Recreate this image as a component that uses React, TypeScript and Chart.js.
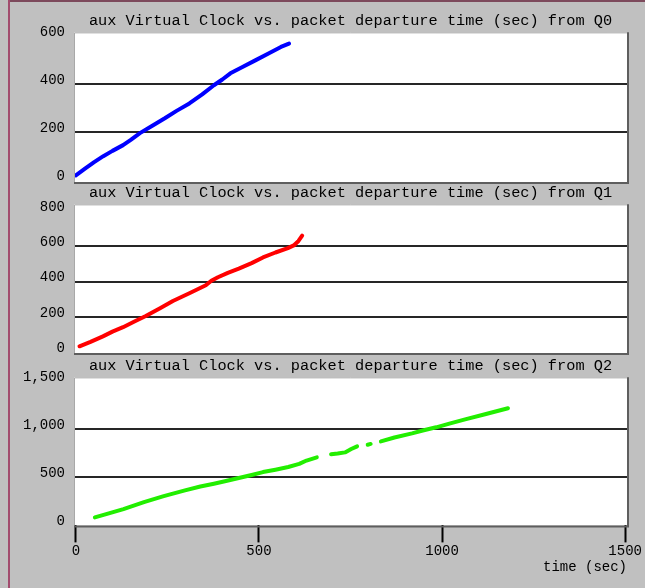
import React, { useEffect, useRef } from "react";
import { Chart, registerables } from "chart.js";

Chart.register(...registerables);

// ---- data ----
const panelTitles = [
  "aux Virtual Clock vs. packet departure time (sec) from Q0",
  "aux Virtual Clock vs. packet departure time (sec) from Q1",
  "aux Virtual Clock vs. packet departure time (sec) from Q2",
];

const q0Time = [0, 25, 50, 75, 100, 129, 150, 175, 210, 243, 275, 310, 345, 377, 400, 422, 455, 490, 530, 560, 582];
const q0Clock = [20, 48, 75, 100, 122, 146, 168, 196, 228, 258, 289, 320, 358, 396, 420, 446, 472, 500, 532, 556, 570];

const q1Time = [10, 40, 74, 100, 129, 160, 191, 230, 265, 310, 355, 370, 388, 415, 445, 480, 511, 545, 579, 595, 608, 618];
const q1Clock = [35, 60, 91, 118, 143, 175, 206, 250, 291, 335, 380, 405, 425, 450, 474, 505, 537, 565, 590, 605, 630, 660];

// null marks a gap in the recorded trace
const q2Time = [52, 90, 130, 186, 240, 298, 340, 377, 410, 445, 480, 511, 545, 580, 610, 630, 658, 678, 697, 715, 735, 752, 768, 783, 797, 805, 818, 833, 870, 918, 950, 984, 1020, 1063, 1120, 1180];
const q2Clock = [83, 125, 170, 243, 305, 365, 405, 434, 462, 493, 525, 555, 580, 608, 640, 675, 708, null, 740, 748, 760, 795, 823, null, 840, 848, null, 875, 915, 958, 990, 1021, 1060, 1104, 1160, 1219];

const yTicks0 = [0, 200, 400, 600];
const yTicks1 = [0, 200, 400, 600, 800];
const yTicks2 = [0, 500, 1000, 1500];
const xTicks = [0, 500, 1000, 1500];

const FONT = "'Liberation Mono', 'DejaVu Sans Mono', monospace";

const plotFrame = {
  id: "plotFrame",
  beforeDraw(chart: any) {
    const { ctx, chartArea } = chart;
    const { left, top, right, bottom } = chartArea;
    ctx.save();
    ctx.fillStyle = "#ffffff";
    ctx.fillRect(left, top, right - left, bottom - top);
    ctx.restore();
  },
  afterDraw(chart: any) {
    const { ctx, chartArea } = chart;
    const { left, top, right, bottom } = chartArea;
    ctx.save();
    ctx.strokeStyle = "#a8a8a8";
    ctx.lineWidth = 1;
    ctx.beginPath();
    ctx.moveTo(left + 0.5, bottom);
    ctx.lineTo(left + 0.5, top + 0.5);
    ctx.lineTo(right, top + 0.5);
    ctx.stroke();
    ctx.strokeStyle = "#5e5e5e";
    ctx.lineWidth = 2;
    ctx.beginPath();
    ctx.moveTo(right + 1, top);
    ctx.lineTo(right + 1, bottom + 1);
    ctx.lineTo(left, bottom + 1);
    ctx.stroke();
    ctx.restore();
  },
};

function makePoints(xs: number[], ys: (number | null)[]) {
  return xs.map((x, i) => ({ x, y: ys[i] }));
}

function yAxis(ticks: number[], min: number, max: number) {
  return {
    type: "linear",
    min,
    max,
    afterFit: (s: any) => {
      s.width = 74;
      s.paddingTop = 0;
      s.paddingBottom = 0;
    },
    afterBuildTicks: (s: any) => {
      s.ticks = ticks.map((v) => ({ value: v }));
    },
    ticks: {
      font: { family: FONT, size: 14 },
      color: "#000",
      padding: 9,
      labelOffset: -4,
    },
    grid: {
      drawTicks: false,
      lineWidth: 2,
      color: (c: any) => {
        const v = c.tick ? c.tick.value : null;
        return v === ticks[0] || v === ticks[ticks.length - 1] ? "rgba(0,0,0,0)" : "#262626";
      },
    },
    border: { display: false },
  };
}

function buildConfig(idx: number): any {
  const title = {
    display: true,
    text: panelTitles[idx],
    fullSize: false,
    color: "#000",
    font: { family: FONT, size: 15.3, weight: "normal" },
    padding: { top: 4, bottom: 2 },
  };
  const series = [
    { pts: makePoints(q0Time, q0Clock), color: "#0000ff" },
    { pts: makePoints(q1Time, q1Clock), color: "#ff0000" },
    { pts: makePoints(q2Time, q2Clock), color: "#22ee00" },
  ][idx];
  const yCfg = [
    yAxis(yTicks0, -8, 617),
    yAxis(yTicks1, -3, 837),
    yAxis(yTicks2, 0, 1541),
  ][idx];
  const xCfg: any =
    idx < 2
      ? { type: "linear", min: -5, max: 1505, display: false }
      : {
          type: "linear",
          min: -5,
          max: 1505,
          afterBuildTicks: (s: any) => {
            s.ticks = xTicks.map((v) => ({ value: v }));
          },
          ticks: {
            font: { family: FONT, size: 14 },
            color: "#000",
            padding: 0,
            maxRotation: 0,
            autoSkip: false,
            callback: (v: any) => String(v),
          },
          grid: {
            drawOnChartArea: false,
            drawTicks: true,
            tickLength: 17,
            tickColor: "#000",
            tickWidth: 2,
          },
          border: { display: false },
          title: {
            display: true,
            text: "time (sec)",
            align: "end",
            color: "#000",
            font: { family: FONT, size: 14 },
            padding: { top: 0, bottom: 0 },
          },
        };
  return {
    type: "line",
    data: {
      datasets: [
        {
          data: series.pts,
          borderColor: series.color,
          backgroundColor: series.color,
          borderWidth: 4,
          pointRadius: 0,
          spanGaps: false,
          tension: 0,
          borderCapStyle: "round",
          borderJoinStyle: "round",
        },
      ],
    },
    options: {
      animation: false,
      responsive: false,
      maintainAspectRatio: false,
      layout: { padding: { left: 0, right: 18, top: 0, bottom: idx < 2 ? 2 : 12 } },
      plugins: {
        legend: { display: false },
        tooltip: { enabled: false },
        title,
      },
      scales: { x: xCfg, y: yCfg },
    },
    plugins: [plotFrame],
  };
}

function Panel({ idx, top, height }: { idx: number; top: number; height: number }) {
  const ref = useRef<HTMLCanvasElement | null>(null);
  useEffect(() => {
    if (!ref.current) return;
    const chart = new Chart(ref.current, buildConfig(idx));
    return () => chart.destroy();
  }, [idx]);
  return (
    <canvas
      ref={ref}
      width={645}
      height={height}
      style={{ position: "absolute", left: 0, top, width: 645, height, display: "block" }}
    />
  );
}

export default function App() {
  return (
    <div
      style={{
        position: "absolute",
        left: 0,
        top: 0,
        width: 645,
        height: 588,
        background: "#c0c0c0",
        overflow: "hidden",
      }}
    >
      <div style={{ position: "absolute", left: 8, top: 0, width: 637, height: 2, background: "#7d4a5c" }} />
      <div style={{ position: "absolute", left: 8, top: 0, width: 2, height: 588, background: "#a24c6e" }} />
      <Panel idx={0} top={8} height={176} />
      <Panel idx={1} top={180} height={175} />
      <Panel idx={2} top={353} height={235} />
    </div>
  );
}
